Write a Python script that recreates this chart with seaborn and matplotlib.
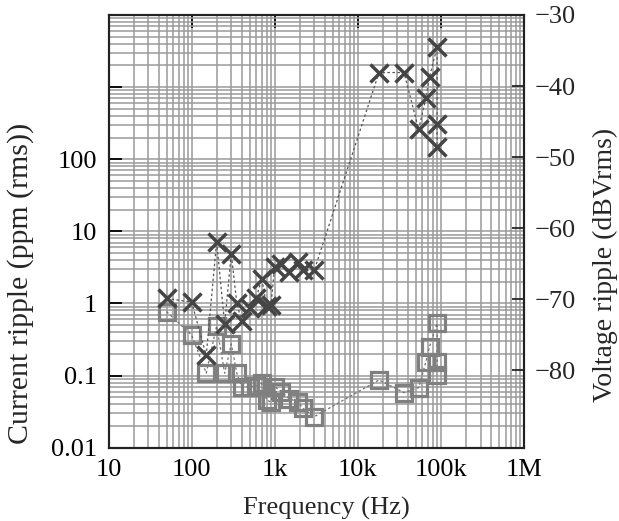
import numpy as np
import pandas as pd
import matplotlib
matplotlib.use("Agg")
import matplotlib.pyplot as plt
import seaborn as sns
from matplotlib.ticker import LogLocator, NullFormatter

# ---- data ----
freq_hz = [50, 100, 150, 200, 250, 300, 350, 400, 500, 600, 700, 800, 900,
           1000, 1200, 1500, 1900, 2200, 3000,
           18000, 36000, 54000, 66000, 73000, 90000, 90000, 90000]
voltage_dbv = [-69.9, -70.4, -77.9, -61.9, -73.5, -63.6, -70.6, -73.1, -71.2,
               -69.8, -67.1, -71.0, -70.8, -65.5, -65.0, -66.2, -64.7, -65.9,
               -65.9, -38.1, -38.1, -46.1, -41.7, -38.7, -34.5, -45.4, -48.6]
current_ppm = [0.77, 0.366, 0.108, 0.488, 0.108, 0.274, 0.108, 0.070, 0.070,
               0.072, 0.078, 0.046, 0.043, 0.070, 0.060, 0.048, 0.043, 0.035,
               0.027, 0.087, 0.058, 0.068, 0.156, 0.252, 0.53, 0.156, 0.102]

x_ticks = [10, 100, 1000, 10000, 100000, 1000000]
x_tick_labels = ["10", "100", "1k", "10k", "100k", "1M"]
left_ticks = [0.01, 0.1, 1, 10, 100, 1000]
left_tick_labels = ["0.01", "0.1", "1", "10", "100", ""]
right_ticks = [-80, -70, -60, -50, -40, -30]
right_tick_labels = ["\u221280", "\u221270", "\u221260", "\u221250", "\u221240", "\u221230"]

df = pd.DataFrame({"f": freq_hz, "v": voltage_dbv, "i": current_ppm})

sns.set_theme(style="white")
plt.rcParams["font.family"] = ["Liberation Serif", "DejaVu Serif"]

W, H = 619, 521
L, R, T, B = 108.5, 524, 15, 447.7
fig = plt.figure(figsize=(W / 100, H / 100), dpi=100)
ax = fig.add_axes([L / W, 1 - B / H, (R - L) / W, (B - T) / H])
ax2 = ax.twinx()

ax.set_xscale("log")
ax.set_yscale("log")
ax.set_xlim(10, 1e6)
ax.set_ylim(0.01, 1e4)
ax2.set_ylim(-90.9, -30)

# grid
ax.xaxis.set_minor_locator(LogLocator(base=10, subs=np.arange(2, 10), numticks=20))
ax.yaxis.set_minor_locator(LogLocator(base=10, subs=np.arange(2, 10), numticks=20))
ax.xaxis.set_minor_formatter(NullFormatter())
ax.yaxis.set_minor_formatter(NullFormatter())
ax.grid(True, which="both", color="#9a9a9a", linewidth=1.1)
ax.set_axisbelow(True)

# current (squares) on left log axis
sns.lineplot(data=df, x="f", y="i", sort=False, estimator=None, ax=ax,
             color="#707070", linestyle=(0, (2, 2)), linewidth=0.9, marker="s",
             markersize=11, markerfacecolor="none", markeredgecolor="#808080",
             markeredgewidth=2.3, zorder=3)
# voltage (crosses) on right dB axis
sns.lineplot(data=df, x="f", y="v", sort=False, estimator=None, ax=ax2,
             color="#555555", linestyle=(0, (2, 2)), linewidth=0.9, marker="x",
             markersize=13, markeredgecolor="#454545", markeredgewidth=2.5, zorder=3)

ax.set_xticks(x_ticks)
ax.set_xticklabels(x_tick_labels)
ax.set_yticks(left_ticks)
ax.set_yticklabels(left_tick_labels)
ax2.set_yticks(right_ticks)
ax2.set_yticklabels(right_tick_labels)
ax2.grid(False)

fs = 19
ax.tick_params(axis="both", which="major", direction="in", length=9, width=1.3,
               labelsize=fs, top=True, colors="black", pad=8)
ax.tick_params(axis="both", which="minor", length=0)
ax.tick_params(axis="y", left=True, right=False)
ax2.tick_params(axis="y", direction="in", length=9, width=1.3, labelsize=fs,
                right=True, pad=8)

ax.set_xlabel("Frequency (Hz)", fontsize=fs)
ax.xaxis.set_label_coords((326 - L) / (R - L), -(508 - B) / (B - T))
ax.set_ylabel("Current ripple (ppm (rms))", fontsize=21.5)
ax.yaxis.set_label_coords((21 - L) / (R - L), (B - 283) / (B - T))
ax2.set_ylabel("Voltage ripple (dBVrms)", fontsize=20, rotation=90)
ax2.yaxis.set_label_coords((605 - L) / (R - L), (B - 265) / (B - T))
for lab in (ax.xaxis.label, ax.yaxis.label, ax2.yaxis.label):
    lab.set_horizontalalignment("center")
    lab.set_verticalalignment("center")

for a in (ax, ax2):
    for s in a.spines.values():
        s.set_color("#222222")
        s.set_linewidth(1.5)

fig.savefig("out.png", dpi=100, facecolor="white")
